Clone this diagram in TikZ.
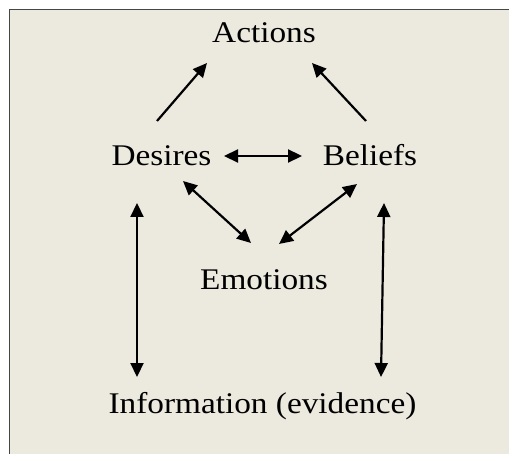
\documentclass[tikz,border=0pt]{standalone}
\usepackage{fontspec}
\setmainfont{Liberation Serif}[FakeStretch=1.11]
\usetikzlibrary{arrows.meta}
\definecolor{bgbeige}{RGB}{236,233,223}
\definecolor{framegray}{RGB}{70,70,70}
\tikzset{
  lbl/.style={anchor=base, inner sep=0pt, font=\fontsize{30bp}{35bp}\selectfont, text=black},
  arr/.style={line width=2.2bp, -{Triangle[length=14bp,width=13bp]}},
  dbl/.style={line width=2.2bp, {Triangle[length=14bp,width=13bp]}-{Triangle[length=14bp,width=13bp]}}
}
\begin{document}
\begin{tikzpicture}[x=1bp,y=-1bp]
\useasboundingbox (0,0) rectangle (509,454);
\fill[bgbeige] (9.5,9.5) rectangle (509,454);
\draw[framegray, line width=1.6bp] (9.5,454) -- (9.5,9.5) -- (509,9.5);
\node[lbl] (actions) at (264,43) {Actions};
\node[lbl] (desires) at (161.5,166) {Desires};
\node[lbl] (beliefs) at (370,166) {Beliefs};
\node[lbl] (emotions) at (264,289) {Emotions};
\node[lbl] (info) at (262.5,413) {Information (evidence)};
\draw[arr] ([shift={(-4.5,-45)}]desires.base) -- ([shift={(-57,20)}]actions.base);
\draw[arr] ([shift={(-4,-45)}]beliefs.base) -- ([shift={(48,20)}]actions.base);
\draw[dbl] ([shift={(62.5,-10)}]desires.base) -- ([shift={(-68,-10)}]beliefs.base);
\draw[dbl] ([shift={(21.5,15)}]desires.base) -- ([shift={(-13,-46)}]emotions.base);
\draw[dbl] ([shift={(-13,18)}]beliefs.base) -- ([shift={(15,-45)}]emotions.base);
\draw[dbl] ([shift={(-24.5,37)}]desires.base) -- ([shift={(-125.5,-36)}]info.base);
\draw[dbl] ([shift={(14,37)}]beliefs.base) -- ([shift={(118.5,-36)}]info.base);
\end{tikzpicture}
\end{document}
